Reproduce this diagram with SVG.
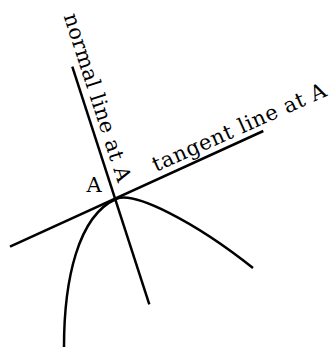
<svg xmlns="http://www.w3.org/2000/svg" width="331" height="348" viewBox="0 0 331 348">
<style>
.ln{stroke:#000;stroke-width:2.5;fill:none;stroke-linecap:butt}
.t{font-family:"DejaVu Serif","Liberation Serif",serif;font-size:21px;fill:#000}
</style>
<rect width="331" height="348" fill="#fff"/>
<g id="connectors">
<line id="normal-line" class="ln" x1="72.3" y1="66.7" x2="149.3" y2="304.3"/>
<line id="tangent-line" class="ln" x1="10" y1="246.7" x2="263.3" y2="131"/>
<path id="curve" class="ln" d="M64,347 C64,280 78,216 116,199 C134,190.7 195,222 253,268"/>
</g>
<g id="label-normal">
<text class="t" transform="translate(63.5,16) rotate(72)" textLength="176" lengthAdjust="spacing">normal line at A</text>
</g>
<g id="label-tangent">
<text class="t" transform="translate(156,172) rotate(-24)" textLength="188" lengthAdjust="spacing">tangent line at A</text>
</g>
<g id="label-A">
<text class="t" x="86.5" y="192">A</text>
</g>
</svg>
